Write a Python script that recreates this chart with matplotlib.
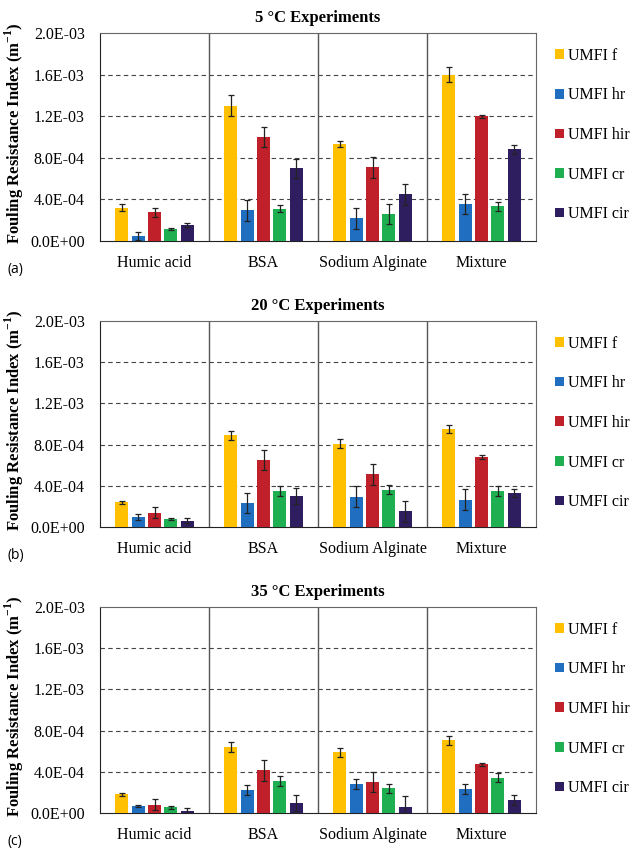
import numpy as np
import matplotlib
matplotlib.use("Agg")
import matplotlib.pyplot as plt
from matplotlib.ticker import FuncFormatter, MultipleLocator

plt.rcParams['font.family'] = ['Liberation Serif', 'DejaVu Serif']
plt.rcParams['mathtext.fontset'] = 'custom'
plt.rcParams['mathtext.rm'] = 'Liberation Serif'
plt.rcParams['mathtext.bf'] = 'Liberation Serif:bold'

categories = ["Humic acid", "BSA", "Sodium Alginate", "Mixture"]
series = ["UMFI f", "UMFI hr", "UMFI hir", "UMFI cr", "UMFI cir"]
colors = ['#FFC000', '#1F6EC0', '#C0202A', '#1DAF50', '#2F1E5F']

# rows = series (f, hr, hir, cr, cir), columns = categories
vals_5c = [[3.2e-4, 1.30e-3, 9.35e-4, 1.60e-3],
           [5.0e-5, 2.95e-4, 2.17e-4, 3.56e-4],
           [2.75e-4, 1.0e-3, 7.1e-4, 1.20e-3],
           [1.17e-4, 3.1e-4, 2.6e-4, 3.33e-4],
           [1.5e-4, 7.0e-4, 4.5e-4, 8.8e-4]]
errs_5c = [[3.5e-5, 1.0e-4, 3.0e-5, 7.5e-5],
           [4.0e-5, 1.0e-4, 1.0e-4, 1.0e-4],
           [4.5e-5, 1.0e-4, 1.0e-4, 1.5e-5],
           [1.0e-5, 3.5e-5, 1.0e-4, 4.0e-5],
           [2.0e-5, 9.0e-5, 1.0e-4, 4.5e-5]]

vals_20c = [[2.4e-4, 8.9e-4, 8.1e-4, 9.5e-4],
            [1.0e-4, 2.33e-4, 2.95e-4, 2.66e-4],
            [1.4e-4, 6.5e-4, 5.12e-4, 6.8e-4],
            [8.0e-5, 3.5e-4, 3.63e-4, 3.5e-4],
            [6.0e-5, 3.0e-4, 1.52e-4, 3.3e-4]]
errs_20c = [[1.6e-5, 4.5e-5, 4.5e-5, 4.2e-5],
            [3.0e-5, 1.0e-4, 1.0e-4, 1.0e-4],
            [5.5e-5, 1.0e-4, 1.0e-4, 2.0e-5],
            [1.0e-5, 5.0e-5, 4.5e-5, 4.5e-5],
            [2.5e-5, 8.0e-5, 1.0e-4, 4.2e-5]]

vals_35c = [[1.8e-4, 6.37e-4, 5.88e-4, 7.04e-4],
            [6.5e-5, 2.23e-4, 2.81e-4, 2.33e-4],
            [8.0e-5, 4.14e-4, 3.0e-4, 4.72e-4],
            [5.5e-5, 3.13e-4, 2.39e-4, 3.42e-4],
            [2.3e-5, 9.7e-5, 6.1e-5, 1.26e-4]]
errs_35c = [[1.2e-5, 4.8e-5, 4.5e-5, 4.2e-5],
            [8.0e-6, 5.0e-5, 5.0e-5, 4.4e-5],
            [5.5e-5, 1.0e-4, 1.0e-4, 1.8e-5],
            [1.5e-5, 5.0e-5, 4.7e-5, 4.2e-5],
            [2.3e-5, 8.0e-5, 1.0e-4, 4.4e-5]]

titles = ["5 °C Experiments", "20 °C Experiments", "35 °C Experiments"]
panel_tags = ["(a)", "(b)", "(c)"]
all_vals = [vals_5c, vals_20c, vals_35c]
all_errs = [errs_5c, errs_20c, errs_35c]

W, H = 633, 851
fig = plt.figure(figsize=(W / 100, H / 100), dpi=100)

# axes boxes in pixels: (top, bottom)
boxes = [(33, 241), (321, 527), (607, 813)]
tag_y = [269, 556, 842]
left_px, right_px = 100, 536

offsets = np.array([-0.3, -0.15, 0.0, 0.15, 0.3])
bar_w = 0.12
centers = np.arange(len(categories)) + 0.5

for p in range(3):
    top, bot = boxes[p]
    ax = fig.add_axes([left_px / W, 1 - bot / H, (right_px - left_px) / W, (bot - top) / H])
    vals = all_vals[p]
    errs = all_errs[p]
    for i, s in enumerate(series):
        ax.bar(centers + offsets[i], vals[i], bar_w, color=colors[i], label=s, zorder=3,
               yerr=errs[i], error_kw=dict(ecolor='#222222', elinewidth=0.9, capsize=2.2, capthick=0.9))

    ax.set_xlim(0, len(categories))
    ax.set_ylim(0, 2.0e-3)
    ax.yaxis.set_major_locator(MultipleLocator(4e-4))
    ax.yaxis.set_major_formatter(FuncFormatter(lambda v, pos: f"{v:.1E}"))
    for y in np.arange(4e-4, 2.0e-3, 4e-4):
        ax.axhline(y, color='#444444', lw=0.8, ls=(0, (4, 3)), zorder=1)
    for x in range(1, len(categories)):
        ax.axvline(x, color='#555555', lw=1.0, zorder=2)

    ax.set_xticks(centers)
    ax.set_xticklabels(categories, fontsize=11.5)
    ax.tick_params(axis='both', length=0)
    ax.tick_params(axis='x', pad=10)
    ax.tick_params(axis='y', pad=11, labelsize=11.5)
    for side in ['top', 'right']:
        ax.spines[side].set_color('#666666')
    for side in ['left', 'bottom']:
        ax.spines[side].set_color('#222222')

    ax.set_title(titles[p], fontsize=12, fontweight='bold', pad=8)
    ax.set_ylabel("Fouling Resistance Index (m$^{\\mathbf{-1}}$)", fontsize=12, fontweight='bold')
    ax.yaxis.set_label_coords(-0.17, 0.52)

    ax.legend(loc='upper left', bbox_to_anchor=(1.03, 0.96), frameon=False, fontsize=11.5,
              handlelength=0.55, handleheight=0.55, handletextpad=0.25, labelspacing=1.48,
              borderaxespad=0)

    fig.text(8 / W, 1 - tag_y[p] / H, panel_tags[p], fontsize=10, family=['Open Sans', 'DejaVu Sans'],
             va='center', ha='left')

fig.savefig("out.png", dpi=100)
